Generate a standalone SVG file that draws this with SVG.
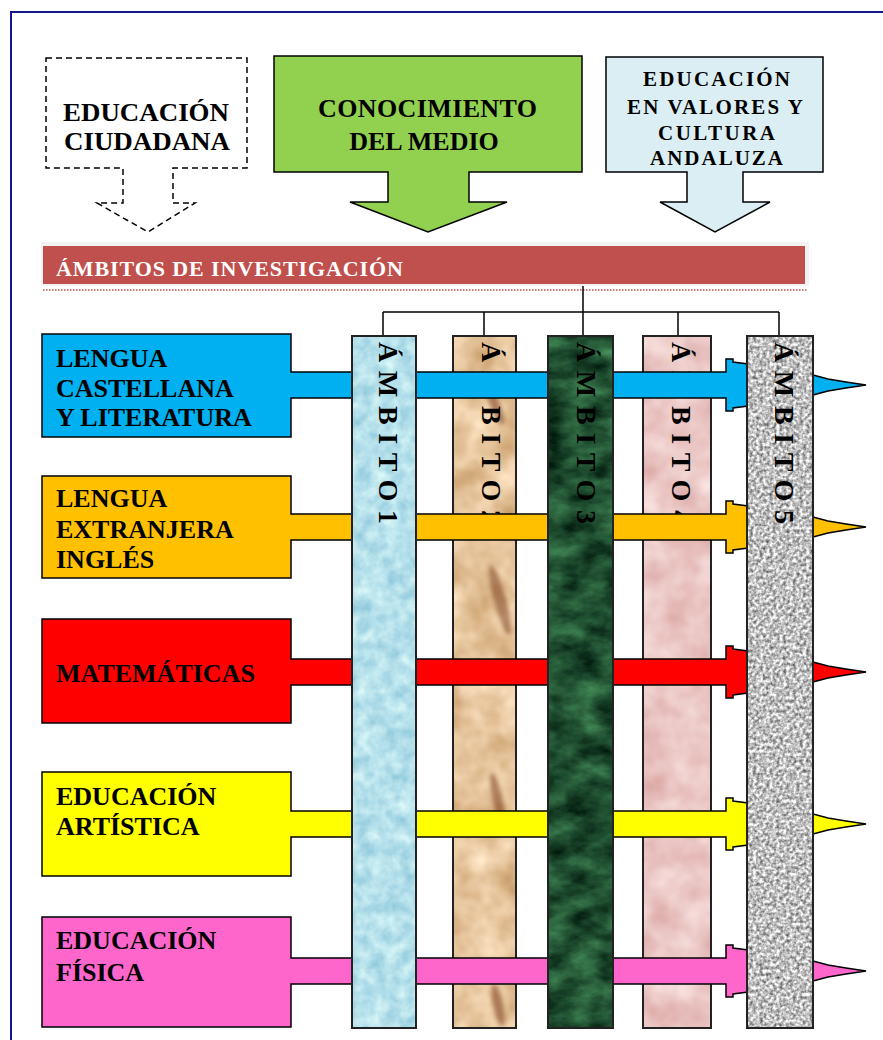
<svg xmlns="http://www.w3.org/2000/svg" width="883" height="1040" viewBox="0 0 883 1040">
<style>
.t{font-family:"Liberation Serif","Times New Roman",serif;font-weight:bold;fill:#000}
.lbl{font-size:26px}
.col{font-family:"Liberation Serif","Times New Roman",serif;font-size:28px;font-weight:bold;fill:#000}
.ol{stroke:#000;stroke-width:1.5;stroke-linejoin:miter}
.cn{fill:none;stroke:#000;stroke-width:1.5}
.cs{fill:none;stroke:#222;stroke-width:2}
</style>
<defs>
<filter id="fWater" x="0" y="0" width="1" height="1" color-interpolation-filters="sRGB">
<feTurbulence type="fractalNoise" baseFrequency="0.07" numOctaves="3" seed="4"/>
<feColorMatrix type="matrix" values="0.4 0 0 0 0.51  0.25 0 0 0 0.755  0.15 0 0 0 0.845  0 0 0 0 1"/>
<feComposite in2="SourceGraphic" operator="in"/>
</filter>
<filter id="fTan" x="0" y="0" width="1" height="1" color-interpolation-filters="sRGB">
<feTurbulence type="fractalNoise" baseFrequency="0.03" numOctaves="3" seed="7"/>
<feColorMatrix type="matrix" values="0.3 0 0 0 0.75  0.4 0 0 0 0.57  0.5 0 0 0 0.36  0 0 0 0 1"/>
<feComposite in2="SourceGraphic" operator="in"/>
</filter>
<filter id="fGreen" x="0" y="0" width="1" height="1" color-interpolation-filters="sRGB">
<feTurbulence type="fractalNoise" baseFrequency="0.03 0.05" numOctaves="4" seed="11"/>
<feColorMatrix type="matrix" values="0.35 0 0 0 -0.05  0.6 0 0 0 0.01  0.4 0 0 0 -0.01  0 0 0 0 1"/>
<feComposite in2="SourceGraphic" operator="in"/>
</filter>
<filter id="fPink" x="0" y="0" width="1" height="1" color-interpolation-filters="sRGB">
<feTurbulence type="fractalNoise" baseFrequency="0.03" numOctaves="3" seed="5"/>
<feColorMatrix type="matrix" values="0.15 0 0 0 0.845  0.3 0 0 0 0.63  0.3 0 0 0 0.62  0 0 0 0 1"/>
<feComposite in2="SourceGraphic" operator="in"/>
</filter>
<filter id="fGranite" x="0" y="0" width="1" height="1" color-interpolation-filters="sRGB">
<feTurbulence type="fractalNoise" baseFrequency="0.3" numOctaves="2" seed="2"/>
<feColorMatrix type="matrix" values="1.1 0 0 0 0.2  1.1 0 0 0 0.2  1.1 0 0 0 0.2  0 0 0 0 1"/>
<feComposite in2="SourceGraphic" operator="in"/>
</filter>
<filter id="fBlur" x="-50%" y="-50%" width="200%" height="200%">
<feGaussianBlur stdDeviation="2"/>
</filter>
</defs>
<rect width="883" height="1040" fill="#fff"/>
<path d="M11,1040 V12 H883" fill="none" stroke="#14148c" stroke-width="2"/>

<g id="educacion-ciudadana">
<path d="M46,58 H247 V168 H173 V203 H195 L148,232 L97,203 H123 V168 H46 Z" fill="#fff" stroke="#000" stroke-width="1.5" stroke-dasharray="6,4"/>
<text class="t" font-size="25" x="63" y="121" textLength="166" lengthAdjust="spacingAndGlyphs">EDUCACIÓN</text>
<text class="t" font-size="25" x="64" y="150" textLength="166" lengthAdjust="spacingAndGlyphs">CIUDADANA</text>
</g>
<g id="conocimiento-medio">
<path class="ol" d="M274,56 H582 V172 H469 V202 H507 L428,232 L350,202 H388 V172 H274 Z" fill="#92d050"/>
<text class="t" font-size="26" x="318" y="117" textLength="219" lengthAdjust="spacing">CONOCIMIENTO</text>
<text class="t" font-size="26" x="424" y="150" text-anchor="middle">DEL MEDIO</text>
</g>
<g id="educacion-valores">
<path class="ol" d="M606,57 H823 V172 H743 V202 H770 L715,232 L660,202 H687 V172 H606 Z" fill="#dbeef4"/>
<text class="t" font-size="21" x="643" y="86" textLength="147" lengthAdjust="spacing">EDUCACIÓN</text>
<text class="t" font-size="21" x="627" y="114" textLength="176" lengthAdjust="spacing">EN VALORES Y</text>
<text class="t" font-size="21" x="658" y="140" textLength="117" lengthAdjust="spacing">CULTURA</text>
<text class="t" font-size="21" x="650" y="165" textLength="133" lengthAdjust="spacing">ANDALUZA</text>
</g>
<g id="ambitos-investigacion">
<rect x="41" y="242" width="768" height="44" fill="#f2f2f2"/>
<rect x="43" y="246" width="762" height="38" fill="#c0504d"/>
<text class="t" font-size="22" x="56" y="276" style="fill:#fff" textLength="347" lengthAdjust="spacing">ÁMBITOS DE INVESTIGACIÓN</text>
<line x1="43" y1="290" x2="808" y2="290" stroke="#c0504d" stroke-width="1.5" stroke-dasharray="1.5,1.5"/>
</g>

<g id="connectors">
<path class="cn" d="M583,286 V336 M383,312 H779 M383,312 V336 M484,312 V336 M678,312 V336 M779,312 V336"/>
</g>

<g id="ambito2">
<rect x="453" y="336" width="63" height="692" fill="#000" filter="url(#fTan)"/>
<g fill="#7a3c1c" opacity="0.55" filter="url(#fBlur)">
<ellipse cx="494" cy="402" rx="5" ry="24" transform="rotate(-22 494 402)"/>
<ellipse cx="500" cy="600" rx="6" ry="36" transform="rotate(-15 500 600)"/>
<ellipse cx="498" cy="802" rx="5" ry="30" transform="rotate(-12 498 802)"/>
<ellipse cx="498" cy="1005" rx="5" ry="22" transform="rotate(-12 498 1005)"/>
</g>
<rect class="cs" x="453" y="336" width="63" height="692"/>
<text class="col" transform="translate(482,342) rotate(90)" textLength="182" lengthAdjust="spacing">ÁMBITO2</text>
</g>
<g id="ambito4">
<rect x="643" y="336" width="68" height="692" fill="#000" filter="url(#fPink)"/>
<rect class="cs" x="643" y="336" width="68" height="692"/>
<text class="col" transform="translate(672,342) rotate(90)" textLength="182" lengthAdjust="spacing">ÁMBITO4</text>
</g>

<g id="lengua-castellana">
<polygon class="ol" fill="#00b0f0" points="42,334 291,334 291,372 726,372 726,359 733,359 733,362 780,368 813,375 828,379 846,382 866,385 846,388 828,391 813,395 780,402 733,408 733,411 726,411 726,398 291,398 291,437 42,437"/>
<text class="t lbl" x="56" y="367">LENGUA</text>
<text class="t lbl" x="56" y="397">CASTELLANA</text>
<text class="t lbl" x="56" y="426">Y LITERATURA</text>
</g>
<g id="lengua-extranjera">
<polygon class="ol" fill="#ffc000" points="42,476 291,476 291,514 726,514 726,501 733,501 733,504 780,510 813,517 828,521 846,524 866,527 846,530 828,533 813,537 780,544 733,550 733,553 726,553 726,540 291,540 291,578 42,578"/>
<text class="t lbl" x="56" y="507">LENGUA</text>
<text class="t lbl" x="56" y="538">EXTRANJERA</text>
<text class="t lbl" x="56" y="568">INGLÉS</text>
</g>
<g id="matematicas">
<polygon class="ol" fill="#ff0000" points="42,619 291,619 291,659 726,659 726,646 733,646 733,649 780,655 813,662 828,666 846,669 866,672 846,675 828,678 813,682 780,689 733,695 733,698 726,698 726,685 291,685 291,723 42,723"/>
<text class="t lbl" x="56" y="682">MATEMÁTICAS</text>
</g>
<g id="educacion-artistica">
<polygon class="ol" fill="#ffff00" points="42,772 291,772 291,811 726,811 726,798 733,798 733,801 780,807 813,814 828,818 846,821 866,824 846,827 828,830 813,834 780,841 733,847 733,850 726,850 726,837 291,837 291,876 42,876"/>
<text class="t lbl" x="56" y="805">EDUCACIÓN</text>
<text class="t lbl" x="56" y="835">ARTÍSTICA</text>
</g>
<g id="educacion-fisica">
<polygon class="ol" fill="#ff66cc" points="42,917 291,917 291,958 726,958 726,945 733,945 733,948 780,954 813,961 828,965 846,968 866,971 846,974 828,977 813,981 780,988 733,994 733,997 726,997 726,984 291,984 291,1027 42,1027"/>
<text class="t lbl" x="56" y="949">EDUCACIÓN</text>
<text class="t lbl" x="56" y="981">FÍSICA</text>
</g>

<g id="ambito1">
<rect x="352" y="336" width="64" height="692" fill="#000" filter="url(#fWater)"/>
<rect class="cs" x="352" y="336" width="64" height="692"/>
<text class="col" transform="translate(379,342) rotate(90)" textLength="182" lengthAdjust="spacing">ÁMBITO1</text>
</g>
<g id="ambito3">
<rect x="548" y="336" width="65" height="692" fill="#000" filter="url(#fGreen)"/>
<rect class="cs" x="548" y="336" width="65" height="692"/>
<text class="col" transform="translate(577,342) rotate(90)" textLength="182" lengthAdjust="spacing">ÁMBITO3</text>
</g>
<g id="ambito5">
<rect x="747" y="336" width="66" height="692" fill="#000" filter="url(#fGranite)"/>
<rect class="cs" x="747" y="336" width="66" height="692"/>
<text class="col" transform="translate(775,342) rotate(90)" textLength="182" lengthAdjust="spacing">ÁMBITO5</text>
</g>
</svg>
